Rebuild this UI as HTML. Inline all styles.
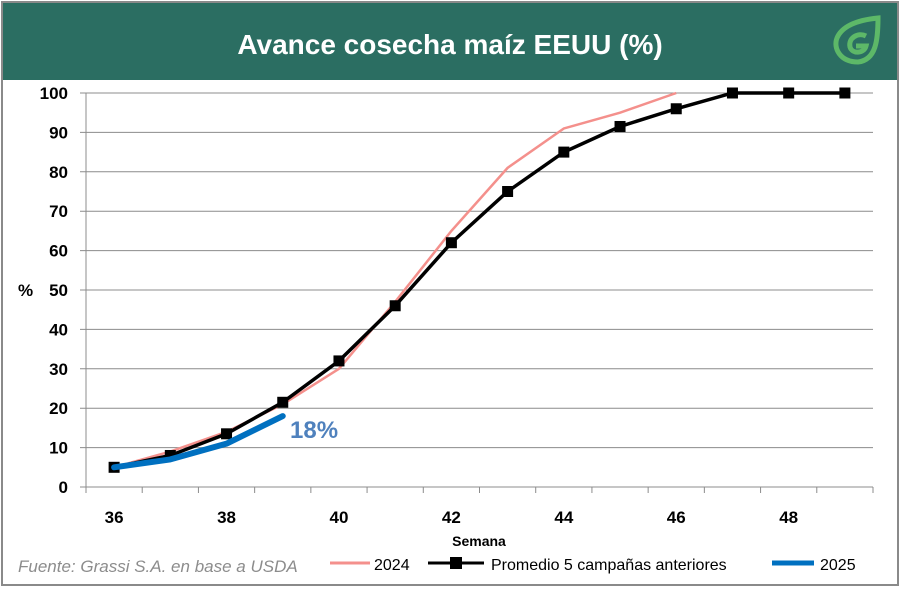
<!DOCTYPE html>
<html><head><meta charset="utf-8"><style>
html,body{margin:0;padding:0;background:#fff;}
body{width:901px;height:588px;position:relative;overflow:hidden;font-family:"Liberation Sans",sans-serif;}
</style></head><body>
<svg width="901" height="588" xmlns="http://www.w3.org/2000/svg">
<rect x="2" y="2" width="896" height="583" fill="#fff" stroke="#8a8a8a" stroke-width="2"/>
<rect x="3" y="3" width="894" height="77" fill="#2B6E62"/>
<text x="450" y="54" text-anchor="middle" font-size="28" font-weight="bold" fill="#fff" font-family="Liberation Sans, sans-serif">Avance cosecha maíz EEUU (%)</text>
<g fill="none" stroke="#5DB868" stroke-width="5">
<path d="M878 18 C 878 40, 876 60, 858 62 C 840 62, 833 48, 837 38 C 842 26, 858 20, 878 18 Z"/>
<path d="M866 36 C 858 32, 848 38, 850 47 C 852 54, 864 54, 866 46 L 856 46"/>
</g>
<g id="grid"></g>
<g id="axes"></g>
<g id="series"></g>
<text x="18" y="296" font-size="17" font-weight="bold" fill="#000">%</text>
<text x="479" y="546" text-anchor="middle" font-size="14" font-weight="bold" fill="#000">Semana</text>
<text x="290" y="438" font-size="24" font-weight="bold" fill="#4F81BD">18%</text>
<text x="18" y="572" font-size="17" font-style="italic" fill="#8c8c8c">Fuente: Grassi S.A. en base a USDA</text>
<g>
<line x1="330" y1="563" x2="370" y2="563" stroke="#F4908C" stroke-width="3"/>
<text x="374" y="570" font-size="16" fill="#000">2024</text>
<line x1="428" y1="563" x2="484" y2="563" stroke="#000" stroke-width="3"/>
<rect x="450" y="557" width="12" height="12" fill="#000"/>
<text x="491" y="570" font-size="16" fill="#000">Promedio 5 campañas anteriores</text>
<line x1="772" y1="563" x2="814" y2="563" stroke="#0070C0" stroke-width="5"/>
<text x="820" y="570" font-size="16" fill="#000">2025</text>
</g>
</svg>
<script>
const weeks=[36,37,38,39,40,41,42,43,44,45,46,47,48,49];
const yTicks=[0,10,20,30,40,50,60,70,80,90,100];
const s2024=[5,9,14,21,30,47,65,81,91,95,100];
const promedio=[5,8,13.5,21.5,32,46,62,75,85,91.5,96,100,100,100];
const s2025=[5,7,11,18];
const NS='http://www.w3.org/2000/svg';
const L=86,R=873,T=93,B=487;
const cw=(R-L)/weeks.length;
function x(i){return L+cw*(i+0.5);}
function y(v){return B-(v/100)*(B-T);}
function mk(tag,attrs,parent){const e=document.createElementNS(NS,tag);for(const k in attrs)e.setAttribute(k,attrs[k]);parent.appendChild(e);return e;}
const grid=document.getElementById('grid'),axes=document.getElementById('axes'),series=document.getElementById('series');
yTicks.forEach(v=>{
 const g=mk('line',{x1:L-6,x2:R,y1:y(v),y2:y(v),stroke:'#8c8c8c','stroke-width':1},grid);
 
 
 const t=mk('text',{x:L-18,y:y(v)+6,'text-anchor':'end','font-size':17,'font-weight':'bold',fill:'#000'},axes);
 t.textContent=v;
 
 
});
const ya=mk('line',{x1:L,x2:L,y1:T,y2:B+6,stroke:'#8c8c8c','stroke-width':1},axes);


for(let i=0;i<=weeks.length;i++){
 const tk=mk('line',{x1:L+cw*i,x2:L+cw*i,y1:B,y2:B+6,stroke:'#8c8c8c'},axes);
 
 
}
weeks.forEach((w,i)=>{ if(i%2===0){
 const t=mk('text',{x:x(i),y:B+36,'text-anchor':'middle','font-size':17,'font-weight':'bold',fill:'#000'},axes);
 t.textContent=w;
 
 
}});
function pts(arr){return arr.map((v,i)=>x(i)+','+y(v)).join(' ');}
const l24=mk('polyline',{points:pts(s2024),fill:'none',stroke:'#F4908C','stroke-width':2.5},series);


const lp=mk('polyline',{points:pts(promedio),fill:'none',stroke:'#000','stroke-width':3.5},series);


promedio.forEach((v,i)=>{
 const m=mk('rect',{x:x(i)-5.5,y:y(v)-5.5,width:11,height:11,fill:'#000'},series);
 
 
});
const l25=mk('polyline',{points:pts(s2025),fill:'none',stroke:'#0070C0','stroke-width':6,'stroke-linecap':'round','stroke-linejoin':'round'},series);


</script>
</body></html>
